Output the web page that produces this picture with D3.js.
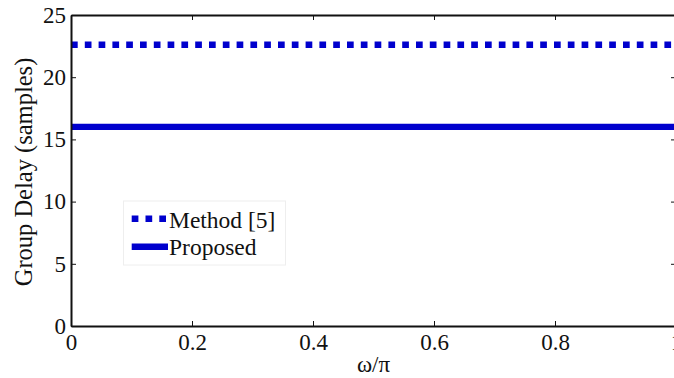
<!DOCTYPE html>
<html>
<head>
<meta charset="utf-8">
<script src="https://cdn.jsdelivr.net/npm/d3@7"></script>
<style>
  html, body { margin: 0; padding: 0; background: #fff; }
  svg { display: block; }
</style>
</head>
<body>
<svg id="chart" width="674" height="378"></svg>
<script>
// Normalised frequency samples and group delay of each design
const freq = [0, 0.2, 0.4, 0.6, 0.8, 1.0];
const methodDelay = [22.6, 22.6, 22.6, 22.6, 22.6, 22.6];
const proposedDelay = [16, 16, 16, 16, 16, 16];
const xTicks = [0, 0.2, 0.4, 0.6, 0.8, 1];
const yTicks = [0, 5, 10, 15, 20, 25];
const seriesNames = ["Method [5]", "Proposed"];

const FONT = "Liberation Serif";
const svg = d3.select("#chart")
  .attr("font-family", FONT).attr("font-size", 23);
const margin = { left: 71, top: 15, right: -2, bottom: 52 };
const W = 674, H = 378;

const x = d3.scaleLinear().domain([0, 1]).range([margin.left, W - margin.right]);
const y = d3.scaleLinear().domain([0, 25]).range([H - margin.bottom, margin.top]);

const blue = "#0000cd";
const dotDash = "6.7,7.1";

// series lines
const line = d3.line().x((d, i) => x(freq[i])).y(d => y(d));
svg.append("path").datum(methodDelay)
  .attr("d", line).attr("fill", "none")
  .attr("stroke", blue).attr("stroke-width", 6.5)
  .attr("stroke-dasharray", dotDash);
svg.append("path").datum(proposedDelay)
  .attr("d", line).attr("fill", "none")
  .attr("stroke", blue).attr("stroke-width", 6.3);

// axes (ticks inward, mirrored on top and right)
const tickLen = 5;
const fmtX = d => d === 0 ? "0" : d === 1 ? "1" : d3.format(".1f")(d);

const axBottom = svg.append("g").attr("transform", `translate(0,${y(0)})`)
  .call(d3.axisBottom(x).tickValues(xTicks).tickFormat(fmtX).tickSizeInner(-tickLen).tickSizeOuter(0).tickPadding(8));
const axTop = svg.append("g").attr("transform", `translate(0,${y(25)})`)
  .call(d3.axisTop(x).tickValues(xTicks).tickFormat("").tickSizeInner(-tickLen).tickSizeOuter(0));
const axLeft = svg.append("g").attr("transform", `translate(${x(0)},0)`)
  .call(d3.axisLeft(y).tickValues(yTicks).tickSizeInner(-tickLen).tickSizeOuter(0).tickPadding(5));
const axRight = svg.append("g").attr("transform", `translate(${x(1)},0)`)
  .call(d3.axisRight(y).tickValues(yTicks).tickFormat("").tickSizeInner(-tickLen).tickSizeOuter(0));

[axBottom, axTop, axLeft, axRight].forEach(g => {
  g.attr("font-family", FONT).attr("font-size", 23);
  g.select(".domain").attr("stroke", "#111").attr("stroke-width", 2);
  g.selectAll(".tick line").attr("stroke", "#111").attr("stroke-width", 1);
  g.selectAll("text").attr("fill", "#111");
});

// axis titles
svg.append("text")
  .attr("x", x(0.5)).attr("y", 372)
  .attr("text-anchor", "middle").attr("fill", "#111")
  .text("ω/π");
svg.append("text")
  .attr("transform", `translate(32,172) rotate(-90)`)
  .attr("text-anchor", "middle").attr("fill", "#111")
  .attr("font-size", 24.5)
  .text("Group Delay (samples)");

// legend
const lg = svg.append("g").attr("font-size", 23.5);
lg.append("rect").attr("x", 123.5).attr("y", 201).attr("width", 162).attr("height", 64)
  .attr("fill", "#fff").attr("stroke", "#eeeeee").attr("stroke-width", 1);
const legendRows = [
  { name: seriesNames[0], dash: dotDash, cy: 218.7, base: 228 },
  { name: seriesNames[1], dash: null, cy: 246.7, base: 254.7 }
];
legendRows.forEach(r => {
  lg.append("line").attr("x1", 131.7).attr("x2", 168).attr("y1", r.cy).attr("y2", r.cy)
    .attr("stroke", blue).attr("stroke-width", 6.5)
    .attr("stroke-dasharray", r.dash);
  lg.append("text").attr("x", 169).attr("y", r.base)
    .attr("fill", "#111").text(r.name);
});
</script>
</body>
</html>
